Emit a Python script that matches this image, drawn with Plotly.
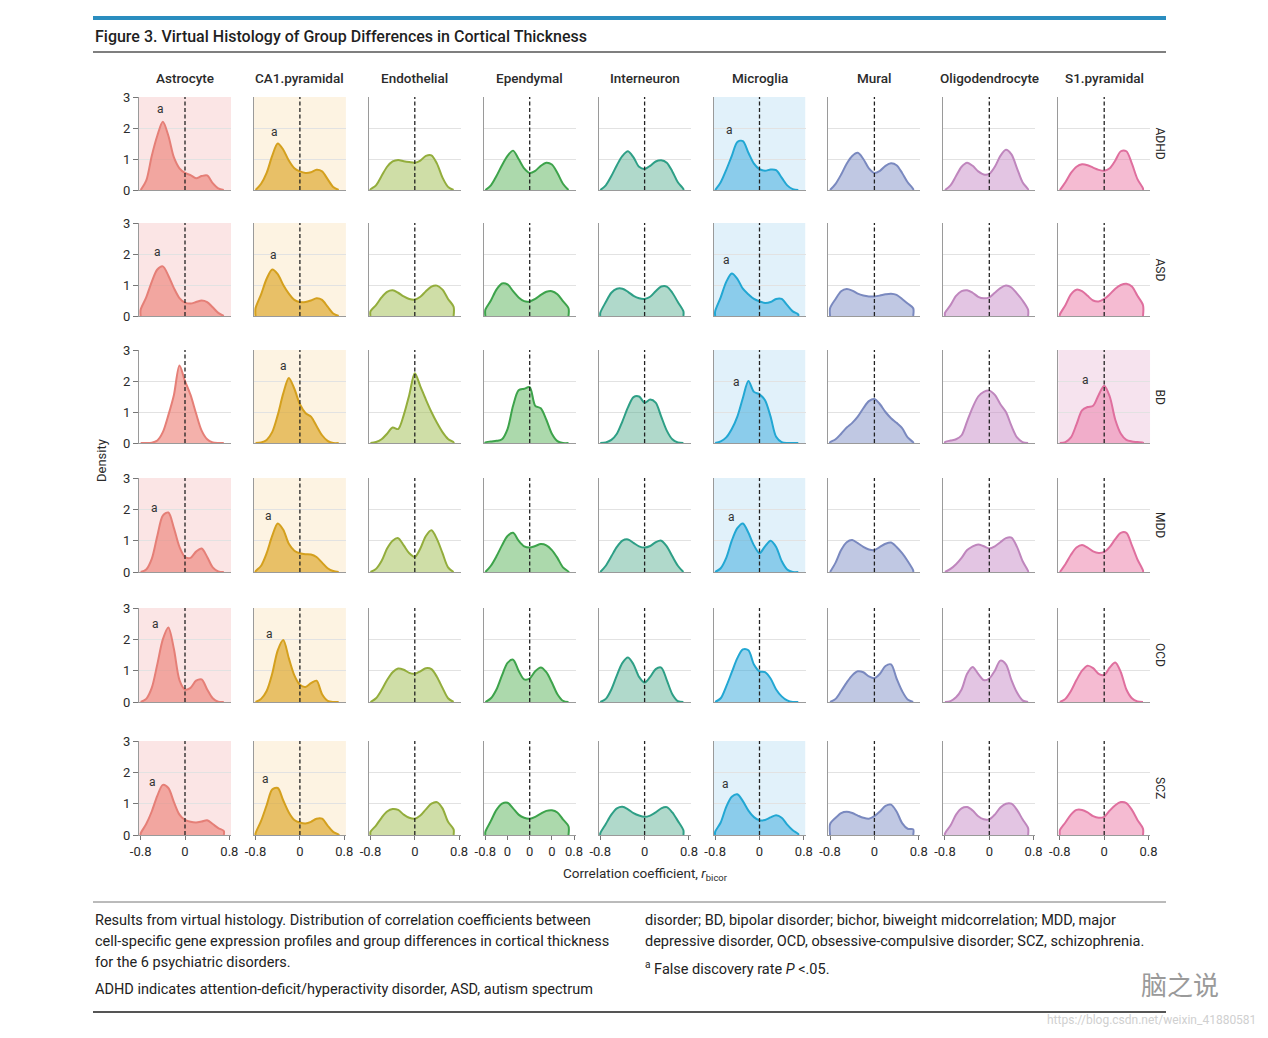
import plotly.graph_objects as go

# ---------------- data ----------------
XGRID = [-0.8, -0.7, -0.6, -0.5, -0.4, -0.3, -0.2, -0.1, 0.0, 0.1, 0.2, 0.3, 0.4, 0.5, 0.6, 0.7, 0.8]
CELLS = ["Astrocyte", "CA1.pyramidal", "Endothelial", "Ependymal", "Interneuron",
         "Microglia", "Mural", "Oligodendrocyte", "S1.pyramidal"]
DISORDERS = ["ADHD", "ASD", "BD", "MDD", "OCD", "SCZ"]
N = None

# density values on XGRID, one row per disorder (ADHD, ASD, BD, MDD, OCD, SCZ)
ASTROCYTE = [
    [0.0, 0.3, 1.1, 1.75, 2.2, 1.75, 1.05, 0.7, 0.55, 0.48, 0.38, 0.45, 0.47, 0.22, 0.05, 0.0, N],
    [0.2, 0.6, 1.1, 1.5, 1.6, 1.3, 0.9, 0.58, 0.43, 0.4, 0.45, 0.5, 0.45, 0.28, 0.1, 0.0, N],
    [0.0, 0.0, 0.01, 0.08, 0.35, 0.9, 1.55, 2.5, 2.0, 1.55, 0.95, 0.4, 0.12, 0.02, 0.0, 0.0, N],
    [0.0, 0.08, 0.42, 1.15, 1.8, 1.9, 1.4, 0.8, 0.48, 0.45, 0.65, 0.75, 0.48, 0.15, 0.02, 0.0, N],
    [0.0, 0.1, 0.45, 1.2, 2.0, 2.38, 1.69, 0.7, 0.4, 0.45, 0.68, 0.72, 0.4, 0.12, 0.01, 0.0, N],
    [0.05, 0.35, 0.75, 1.25, 1.6, 1.5, 1.05, 0.65, 0.48, 0.42, 0.4, 0.43, 0.47, 0.35, 0.22, 0.13, N],
]
CA1_PYRAMIDAL = [
    [0.0, 0.2, 0.55, 1.1, 1.5, 1.3, 0.95, 0.7, 0.6, 0.55, 0.57, 0.65, 0.6, 0.35, 0.1, 0.0, N],
    [0.25, 0.7, 1.2, 1.5, 1.35, 1.0, 0.72, 0.52, 0.45, 0.45, 0.5, 0.57, 0.52, 0.3, 0.08, 0.0, N],
    [0.0, 0.02, 0.1, 0.35, 0.9, 1.6, 2.1, 1.75, 1.25, 0.97, 0.85, 0.55, 0.25, 0.07, 0.0, 0.0, N],
    [0.02, 0.2, 0.6, 1.15, 1.55, 1.35, 0.9, 0.68, 0.6, 0.57, 0.56, 0.48, 0.3, 0.12, 0.03, 0.0, N],
    [0.0, 0.1, 0.35, 0.9, 1.65, 1.98, 1.4, 0.85, 0.55, 0.48, 0.6, 0.68, 0.25, 0.04, 0.0, 0.0, N],
    [0.05, 0.45, 0.95, 1.45, 1.5, 1.1, 0.72, 0.48, 0.4, 0.37, 0.42, 0.52, 0.52, 0.3, 0.1, 0.01, N],
]
ENDOTHELIAL = [
    [0.02, 0.15, 0.45, 0.75, 0.92, 0.97, 0.93, 0.9, 0.88, 0.95, 1.1, 1.12, 0.85, 0.4, 0.1, 0.0, N],
    [0.15, 0.35, 0.6, 0.78, 0.83, 0.75, 0.63, 0.55, 0.53, 0.62, 0.8, 0.95, 0.98, 0.85, 0.55, 0.3, N],
    [0.0, 0.03, 0.12, 0.3, 0.5, 0.45, 0.9, 1.55, 2.25, 1.83, 1.4, 1.0, 0.65, 0.35, 0.13, 0.02, N],
    [0.0, 0.1, 0.35, 0.75, 1.0, 1.08, 0.85, 0.6, 0.48, 0.75, 1.15, 1.33, 1.05, 0.6, 0.15, 0.0, N],
    [0.0, 0.12, 0.38, 0.7, 0.95, 1.07, 1.03, 0.93, 0.9, 0.98, 1.08, 1.05, 0.8, 0.45, 0.12, 0.0, N],
    [0.1, 0.3, 0.55, 0.75, 0.83, 0.8, 0.65, 0.55, 0.52, 0.62, 0.82, 1.0, 1.05, 0.85, 0.42, 0.18, N],
]
EPENDYMAL = [
    [0.0, 0.15, 0.45, 0.8, 1.1, 1.27, 1.0, 0.7, 0.55, 0.62, 0.78, 0.88, 0.82, 0.55, 0.2, 0.0, N],
    [0.2, 0.5, 0.85, 1.05, 1.02, 0.8, 0.6, 0.48, 0.47, 0.55, 0.68, 0.78, 0.8, 0.7, 0.48, 0.25, N],
    [0.02, 0.05, 0.07, 0.12, 0.45, 1.2, 1.7, 1.75, 1.8, 1.2, 1.12, 0.75, 0.3, 0.06, 0.0, 0.0, N],
    [0.0, 0.2, 0.5, 0.85, 1.15, 1.25, 1.0, 0.82, 0.78, 0.83, 0.89, 0.85, 0.7, 0.45, 0.15, 0.01, N],
    [0.0, 0.12, 0.4, 0.85, 1.25, 1.35, 1.0, 0.72, 0.75, 0.98, 1.1, 0.95, 0.62, 0.25, 0.04, 0.0, N],
    [0.1, 0.45, 0.8, 1.0, 1.03, 0.85, 0.65, 0.55, 0.52, 0.58, 0.68, 0.77, 0.79, 0.72, 0.5, 0.28, N],
]
INTERNEURON = [
    [0.0, 0.15, 0.45, 0.8, 1.1, 1.25, 1.05, 0.75, 0.68, 0.78, 0.92, 0.96, 0.88, 0.6, 0.25, 0.03, N],
    [0.1, 0.45, 0.75, 0.88, 0.88, 0.78, 0.65, 0.57, 0.55, 0.62, 0.8, 0.95, 0.95, 0.75, 0.45, 0.15, N],
    [0.0, 0.02, 0.1, 0.3, 0.7, 1.15, 1.48, 1.5, 1.3, 1.4, 1.3, 0.85, 0.4, 0.12, 0.02, 0.0, N],
    [0.0, 0.2, 0.5, 0.8, 1.0, 1.04, 0.93, 0.82, 0.78, 0.83, 0.95, 1.0, 0.82, 0.5, 0.2, 0.0, N],
    [0.0, 0.1, 0.4, 0.85, 1.25, 1.42, 1.2, 0.8, 0.62, 0.8, 1.05, 1.1, 0.7, 0.25, 0.03, 0.0, N],
    [0.05, 0.35, 0.65, 0.85, 0.9, 0.82, 0.7, 0.62, 0.58, 0.62, 0.72, 0.85, 0.89, 0.72, 0.45, 0.15, N],
]
MICROGLIA = [
    [0.0, 0.25, 0.65, 1.1, 1.55, 1.58, 1.2, 0.85, 0.67, 0.62, 0.66, 0.64, 0.4, 0.15, 0.03, 0.0, N],
    [0.15, 0.6, 1.1, 1.37, 1.2, 0.88, 0.7, 0.55, 0.47, 0.42, 0.45, 0.55, 0.55, 0.35, 0.15, 0.05, N],
    [0.0, 0.05, 0.18, 0.45, 0.85, 1.45, 2.0, 1.65, 1.57, 1.38, 0.85, 0.2, 0.03, 0.0, 0.0, 0.0, N],
    [0.0, 0.12, 0.45, 1.0, 1.4, 1.55, 1.25, 0.85, 0.6, 0.82, 1.0, 0.8, 0.35, 0.08, 0.0, 0.0, N],
    [0.0, 0.12, 0.5, 0.95, 1.4, 1.68, 1.65, 1.2, 0.98, 0.95, 0.75, 0.4, 0.18, 0.05, 0.0, 0.0, N],
    [0.1, 0.4, 0.9, 1.22, 1.3, 1.08, 0.78, 0.57, 0.47, 0.48, 0.56, 0.63, 0.55, 0.33, 0.15, 0.03, N],
]
MURAL = [
    [0.0, 0.2, 0.5, 0.85, 1.1, 1.2, 1.0, 0.7, 0.55, 0.62, 0.78, 0.86, 0.8, 0.55, 0.25, 0.03, N],
    [0.25, 0.55, 0.8, 0.87, 0.82, 0.72, 0.66, 0.63, 0.63, 0.66, 0.7, 0.72, 0.68, 0.55, 0.4, 0.25, N],
    [0.02, 0.12, 0.3, 0.5, 0.65, 0.85, 1.12, 1.35, 1.42, 1.25, 1.0, 0.8, 0.65, 0.48, 0.18, 0.02, N],
    [0.0, 0.3, 0.7, 0.95, 1.02, 0.92, 0.8, 0.72, 0.7, 0.8, 0.9, 0.94, 0.8, 0.6, 0.35, 0.05, N],
    [0.0, 0.1, 0.35, 0.62, 0.85, 0.98, 0.95, 0.82, 0.76, 0.9, 1.15, 1.2, 0.75, 0.35, 0.08, 0.0, N],
    [0.35, 0.55, 0.7, 0.74, 0.7, 0.62, 0.55, 0.52, 0.6, 0.75, 0.93, 0.97, 0.75, 0.38, 0.2, 0.18, N],
]
OLIGODENDROCYTE = [
    [0.0, 0.15, 0.45, 0.75, 0.88, 0.78, 0.6, 0.5, 0.52, 0.75, 1.1, 1.3, 1.15, 0.7, 0.25, 0.02, N],
    [0.1, 0.35, 0.65, 0.8, 0.83, 0.75, 0.62, 0.57, 0.6, 0.75, 0.9, 0.98, 0.92, 0.72, 0.5, 0.2, N],
    [0.03, 0.08, 0.12, 0.25, 0.7, 1.15, 1.5, 1.65, 1.69, 1.55, 1.25, 1.0, 0.55, 0.18, 0.03, 0.0, N],
    [0.0, 0.1, 0.25, 0.45, 0.7, 0.82, 0.88, 0.82, 0.75, 0.82, 0.95, 1.08, 1.1, 0.8, 0.35, 0.03, N],
    [0.0, 0.03, 0.15, 0.4, 0.9, 1.12, 0.9, 0.7, 0.75, 1.0, 1.32, 1.2, 0.7, 0.3, 0.05, 0.0, N],
    [0.05, 0.3, 0.65, 0.85, 0.89, 0.78, 0.6, 0.5, 0.5, 0.65, 0.88, 1.0, 1.0, 0.8, 0.5, 0.22, N],
]
S1_PYRAMIDAL = [
    [0.0, 0.25, 0.55, 0.75, 0.83, 0.8, 0.72, 0.65, 0.62, 0.7, 0.95, 1.25, 1.25, 0.85, 0.35, 0.05, N],
    [0.05, 0.35, 0.7, 0.85, 0.8, 0.65, 0.5, 0.47, 0.55, 0.7, 0.88, 1.0, 1.04, 0.95, 0.65, 0.35, N],
    [0.0, 0.03, 0.18, 0.6, 1.05, 1.16, 1.2, 1.55, 1.85, 1.5, 0.75, 0.3, 0.1, 0.05, 0.03, 0.01, N],
    [0.0, 0.25, 0.55, 0.78, 0.86, 0.78, 0.66, 0.61, 0.64, 0.8, 1.05, 1.25, 1.25, 0.85, 0.4, 0.05, N],
    [0.0, 0.1, 0.35, 0.7, 1.0, 1.16, 1.08, 0.9, 0.86, 1.1, 1.26, 0.95, 0.4, 0.12, 0.02, 0.0, N],
    [0.15, 0.4, 0.65, 0.8, 0.8, 0.72, 0.6, 0.55, 0.58, 0.78, 0.95, 1.05, 1.02, 0.8, 0.48, 0.2, N],
]
DENSITY = [ASTROCYTE, CA1_PYRAMIDAL, ENDOTHELIAL, EPENDYMAL, INTERNEURON,
           MICROGLIA, MURAL, OLIGODENDROCYTE, S1_PYRAMIDAL]

# (cell index, disorder index) with false discovery rate P < .05
SIGNIFICANT = [(0, 0), (0, 1), (0, 3), (0, 4), (0, 5),
               (1, 0), (1, 1), (1, 2), (1, 3), (1, 4), (1, 5),
               (5, 0), (5, 1), (5, 2), (5, 3), (5, 5),
               (8, 2)]

Y_TICKS = [0, 1, 2, 3]
X_TICKS = [-0.8, 0, 0.8]
X_TICK_TEXT = ["-0.8", "0", "0.8"]
X_TICKS_EPENDYMAL = [-0.8, -0.4, 0, 0.4, 0.8]
X_TICK_TEXT_EPENDYMAL = ["-0.8", "0", "0", "0", "0.8"]

# ---------------- styles / layout positions ----------------
LINE_COLORS = ["#e57f77", "#d4a01e", "#93ad3c", "#3da34b", "#2e9f86",
               "#22a7d3", "#7a89bf", "#bf86bd", "#df6f9e"]
FILL_COLORS = ["rgba(236,120,110,0.58)", "rgba(222,165,40,0.66)", "rgba(160,190,80,0.5)",
               "rgba(90,180,90,0.5)", "rgba(80,170,140,0.45)", "rgba(60,170,220,0.52)",
               "rgba(130,145,200,0.5)", "rgba(200,140,200,0.5)", "rgba(235,120,165,0.5)"]
BG_COLORS = {0: "#fbe5e5", 1: "#fdf3e2", 5: "#e1f1fa", 8: "#f6e3ee"}
A_POS = {(0, 0): (-0.45, 2.6), (0, 1): (-0.49, 2.05), (0, 3): (-0.55, 2.05),
         (0, 4): (-0.53, 2.5), (0, 5): (-0.58, 1.7),
         (1, 0): (-0.45, 1.88), (1, 1): (-0.47, 1.98), (1, 2): (-0.3, 2.5),
         (1, 3): (-0.57, 1.8), (1, 4): (-0.54, 2.18), (1, 5): (-0.62, 1.8),
         (5, 0): (-0.55, 1.92), (5, 1): (-0.6, 1.8), (5, 2): (-0.42, 1.98),
         (5, 3): (-0.5, 1.75), (5, 5): (-0.62, 1.62),
         (8, 2): (-0.33, 2.02)}

# page body has an 8px margin; the figure is sized so that page == window
PAGE_OFF = 8
W, H = 1268 - 2 * PAGE_OFF, 1038 - 2 * PAGE_OFF
COL0_PX, COL_STEP_PX, HALF_W_PX = 185.0, 114.9, 46.0
ROW_TOP_PX = [97, 223, 350, 478, 608, 741]
ROW_BOT_PX = [190, 316, 443, 572, 702, 835]
XR = [-0.83, 0.83]
FONT = "Roboto, Open Sans, sans-serif"
TXT = "#2b2b2b"


def px(xp):
    return (xp - PAGE_OFF) / W


def py(yp):
    return 1 - (yp - PAGE_OFF) / H


def note(text, xp, yp, size=13, color=TXT, xanchor="center", angle=0, family=FONT, weight=None):
    f = dict(family=family, size=size, color=color)
    if weight:
        f["weight"] = weight
    return dict(text=text, x=px(xp), y=py(yp), xref="paper", yref="paper", xanchor=xanchor,
                yanchor="middle", showarrow=False, textangle=angle, font=f)


fig = go.Figure()
layout = {}
shapes = []
annotations = []

for r in range(len(DISORDERS)):
    for c in range(len(CELLS)):
        n = r * len(CELLS) + c + 1
        sfx = "" if n == 1 else str(n)
        xa, ya = "x" + sfx, "y" + sfx
        vals = DENSITY[c][r]
        pts = [(x, v) for x, v in zip(XGRID, vals) if v is not None]
        xs = [pts[0][0]] + [p[0] for p in pts] + [pts[-1][0]]
        ys = [0] + [p[1] for p in pts] + [0]
        fig.add_trace(go.Scatter(
            x=xs, y=ys, mode="lines", fill="toself", fillcolor=FILL_COLORS[c],
            line=dict(color=LINE_COLORS[c], width=2, shape="spline", smoothing=0.85),
            xaxis=xa, yaxis=ya, showlegend=False, hoverinfo="skip"))

        cx = COL0_PX + c * COL_STEP_PX
        bottom = r == len(DISORDERS) - 1
        if c == 3:
            tv, tt = X_TICKS_EPENDYMAL, X_TICK_TEXT_EPENDYMAL
        else:
            tv, tt = X_TICKS, X_TICK_TEXT
        layout["xaxis" + sfx] = dict(
            domain=[px(cx - HALF_W_PX), px(cx + HALF_W_PX)], range=XR, anchor=ya,
            automargin=False, showgrid=False, zeroline=False, showline=True,
            linecolor="#9a9a9a", linewidth=1,
            tickvals=tv, ticktext=tt, showticklabels=bottom,
            ticks="outside" if bottom else "", ticklen=4, tickcolor="#777",
            tickfont=dict(family=FONT, size=13, color=TXT), fixedrange=True)
        layout["yaxis" + sfx] = dict(
            domain=[py(ROW_BOT_PX[r]), py(ROW_TOP_PX[r])], range=[0, 3], anchor=xa,
            automargin=False, showgrid=True, gridcolor="#e2e2e2", gridwidth=1, zeroline=False,
            showline=True, linecolor="#9a9a9a", linewidth=1,
            tickvals=Y_TICKS, showticklabels=(c == 0),
            ticks="outside" if c == 0 else "", ticklen=5, tickcolor="#777",
            tickfont=dict(family=FONT, size=13, color=TXT), fixedrange=True)

        if (c, r) in SIGNIFICANT:
            shapes.append(dict(type="rect", xref=xa, yref=ya, x0=XR[0], x1=XR[1], y0=0, y1=3,
                               fillcolor=BG_COLORS[c], line=dict(width=0), layer="below"))
            ax, ay = A_POS[(c, r)]
            annotations.append(dict(text="a", x=ax, y=ay, xref=xa, yref=ya, showarrow=False,
                                    xanchor="center", yanchor="middle",
                                    font=dict(family=FONT, size=12, color="#333")))
        shapes.append(dict(type="line", xref=xa, yref=ya, x0=0, x1=0, y0=0, y1=3,
                           line=dict(color="#222", width=1.3, dash="4px,2.5px"), layer="above"))

# column titles
for c, name in enumerate(CELLS):
    annotations.append(note(name, COL0_PX + c * COL_STEP_PX, 78, size=13.5, weight=500))
# row labels
for r, name in enumerate(DISORDERS):
    annotations.append(note(name, 1160, (ROW_TOP_PX[r] + ROW_BOT_PX[r]) / 2, size=12, angle=90))

# axis titles
annotations.append(note("Density", 101, 460, size=13, angle=-90))
annotations.append(note("Correlation coefficient, <i>r</i><sub>bicor</sub>", 645, 874, size=13.5))

# figure title
annotations.append(note("Figure 3. Virtual Histology of Group Differences in Cortical Thickness",
                        93, 36, size=16, color="#1f1f1f", xanchor="left", weight=500))

# caption
CAPTION_LEFT = [
    "Results from virtual histology. Distribution of correlation coefficients between",
    "cell-specific gene expression profiles and group differences in cortical thickness",
    "for the 6 psychiatric disorders.",
    "ADHD indicates attention-deficit/hyperactivity disorder, ASD, autism spectrum",
]
CAPTION_RIGHT = [
    "disorder; BD, bipolar disorder; bichor, biweight midcorrelation; MDD, major",
    "depressive disorder, OCD, obsessive-compulsive disorder; SCZ, schizophrenia.",
    "<sup>a</sup> False discovery rate <i>P</i> <.05.",
]
for txt, yp in zip(CAPTION_LEFT, [920, 941, 962, 989]):
    annotations.append(note(txt, 93, yp, size=14.5, color="#222", xanchor="left"))
for txt, yp in zip(CAPTION_RIGHT, [920, 941, 968]):
    annotations.append(note(txt, 643, yp, size=14.5, color="#222", xanchor="left"))

# watermark
annotations.append(note("脑之说", 1180, 983, size=26, color="#9a9a9a", family="Noto Sans CJK SC"))
annotations.append(note("https://blog.csdn.net/weixin_41880581", 1258, 1020, size=12,
                        color="#d0d0d0", xanchor="right"))

# decorative rules
for yp, col, wd in [(18, "#2a8dbf", 4), (52, "#555", 1.5), (902, "#777", 1), (1012, "#555", 2)]:
    shapes.append(dict(type="line", xref="paper", yref="paper", x0=px(93), x1=px(1166),
                       y0=py(yp), y1=py(yp), line=dict(color=col, width=wd)))

fig.update_layout(width=W, height=H, margin=dict(l=0, r=0, t=0, b=0, pad=0), autosize=False,
                  paper_bgcolor="white", plot_bgcolor="rgba(0,0,0,0)",
                  font=dict(family=FONT, color=TXT), showlegend=False,
                  shapes=shapes, annotations=annotations, **layout)

fig.write_html("out.html")
